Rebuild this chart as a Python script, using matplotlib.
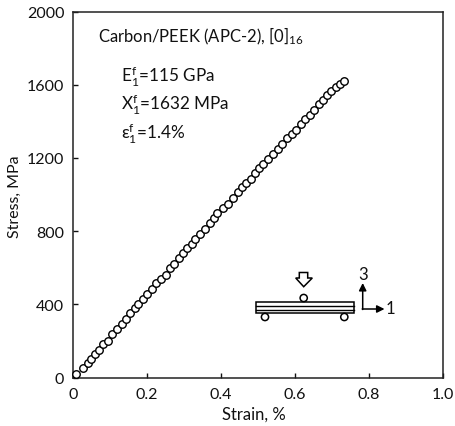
import matplotlib
matplotlib.use('Agg')
import matplotlib.pyplot as plt
from matplotlib.patches import Circle, Polygon, Rectangle

plt.rcParams['font.family'] = ['Lato', 'DejaVu Sans']
plt.rcParams['mathtext.default'] = 'regular'

strain = [0.009, 0.029, 0.040, 0.049, 0.060, 0.072, 0.082, 0.095, 0.107, 0.120,
          0.133, 0.145, 0.155, 0.168, 0.177, 0.189, 0.202, 0.213, 0.226, 0.238,
          0.251, 0.262, 0.274, 0.287, 0.299, 0.310, 0.322, 0.331, 0.344, 0.358,
          0.371, 0.381, 0.391, 0.405, 0.421, 0.434, 0.446, 0.458, 0.468, 0.481,
          0.493, 0.504, 0.515, 0.529, 0.541, 0.554, 0.565, 0.578, 0.592, 0.603,
          0.616, 0.628, 0.641, 0.653, 0.666, 0.677, 0.688, 0.699, 0.711, 0.722, 0.733]
stress = [19, 52, 77, 100, 126, 150, 181, 201, 239, 263,
          292, 321, 352, 378, 402, 429, 455, 482, 516, 538,
          562, 597, 620, 651, 679, 708, 731, 757, 784, 811,
          844, 870, 897, 925, 948, 983, 1012, 1039, 1061, 1086,
          1116, 1143, 1167, 1194, 1221, 1249, 1276, 1309, 1331, 1352,
          1385, 1413, 1436, 1463, 1495, 1518, 1544, 1567, 1589, 1605, 1622]

x_ticks = [0, 0.2, 0.4, 0.6, 0.8, 1.0]
x_labels = ['0', '0.2', '0.4', '0.6', '0.8', '1.0']
y_ticks = [0, 400, 800, 1200, 1600, 2000]

W, H = 455, 427
fig = plt.figure(figsize=(W / 100, H / 100), dpi=100)
ax = fig.add_axes([72.7 / W, (H - 378.5) / H, 370 / W, 366 / H])

ax.plot(strain, stress, 'o', mfc='white', mec='black', mew=1.0, ms=5.4, clip_on=False, zorder=3)
ax.set_xlim(0, 1)
ax.set_ylim(0, 2000)
ax.set_xticks(x_ticks, x_labels)
ax.set_yticks(y_ticks)
ax.tick_params(direction='in', length=3.5, width=1, labelsize=11.5, colors='#111111')
ax.tick_params(axis='x', pad=6.5)
ax.tick_params(axis='y', pad=6)
ax.set_xlabel('Strain, %', fontsize=12, labelpad=3, color='#111111')
ax.xaxis.set_label_coords((253.5 - 72.7) / 370, -(415 - 378.5) / 366, transform=ax.transAxes)
ax.xaxis.label.set_va('center')
ax.set_ylabel('Stress, MPa', fontsize=11.4, color='#111111')
ax.yaxis.set_label_coords((15 - 72.7) / 370, (378.5 - 196.5) / 366, transform=ax.transAxes)
ax.yaxis.label.set_va('center')
for s in ax.spines.values():
    s.set_linewidth(1.1)
    s.set_color('#222222')

# pixel overlay for the notes and the little test sketch
ov = fig.add_axes([0, 0, 1, 1])
ov.set_xlim(0, W)
ov.set_ylim(H, 0)
ov.axis('off')
ov.patch.set_alpha(0)

ov.text(98, 36, 'Carbon/PEEK (APC-2), [0]$_{16}$', fontsize=12, va='center', color='#111111')
ov.text(121, 77, 'E$_1^f$=115 GPa', fontsize=12.3, va='center', color='#111111')
ov.text(121, 105, 'X$_1^f$=1632 MPa', fontsize=12.3, va='center', color='#111111')
ov.text(121, 134, '\u03b5$_1^f$=1.4%', fontsize=12.3, va='center', color='#111111')

ov.add_patch(Rectangle((256, 302.7), 98.3, 11.6, fc='white', ec='black', lw=1.1))
for yy in [306.7, 310.7]:
    ov.plot([256, 354.3], [yy, yy], color='black', lw=1)
for cx, cy in [(303.7, 299), (265, 318), (344.3, 318)]:
    ov.add_patch(Circle((cx, cy), 3.6, fc='white', ec='black', lw=1.1, zorder=3))
ov.add_patch(Polygon([(299.3, 273.5), (307.7, 273.5), (307.7, 279), (312.3, 279),
                      (303.7, 287.7), (295.7, 279), (299.3, 279)],
                     fc='white', ec='black', lw=1.1))
ov.annotate('', xy=(362.7, 284), xytext=(362.7, 310.5),
            arrowprops=dict(arrowstyle='-|>', color='black', lw=1.1, shrinkA=0, shrinkB=0, mutation_scale=11))
ov.annotate('', xy=(384.5, 310), xytext=(362.2, 310),
            arrowprops=dict(arrowstyle='-|>', color='black', lw=1.1, shrinkA=0, shrinkB=0, mutation_scale=11))
ov.text(363.5, 275, '3', fontsize=12, ha='center', va='center', color='#111111')
ov.text(390.5, 309.5, '1', fontsize=12, ha='center', va='center', color='#111111')

fig.savefig('out.png', dpi=100)
